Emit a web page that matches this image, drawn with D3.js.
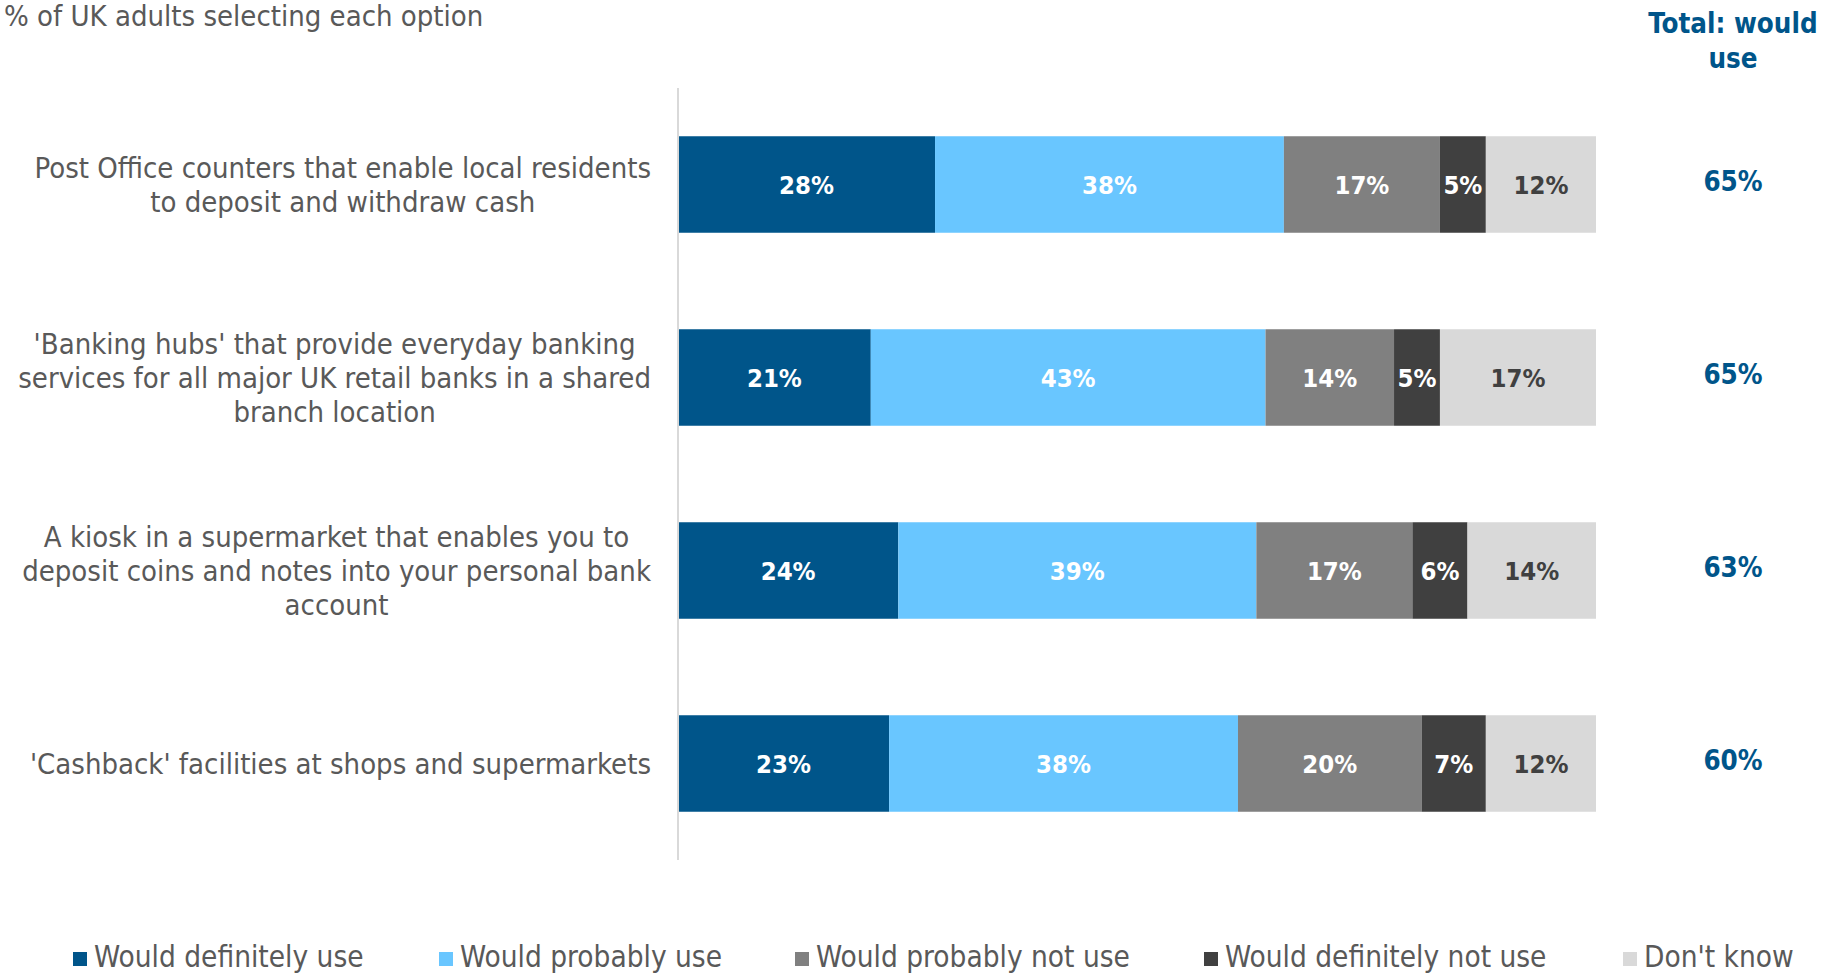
<!DOCTYPE html>
<html>
<head>
<meta charset="utf-8">
<script src="https://cdn.jsdelivr.net/npm/d3@7"></script>
<style>
  html, body { margin: 0; padding: 0; background: #fff; }
  svg { display: block; font-family: "DejaVu Sans Condensed", "DejaVu Sans", sans-serif; }
</style>
</head>
<body>
<svg id="chart" width="1839" height="974"></svg>
<script>
// Survey options (one label line per array element)
const categories = [
  ["Post Office counters that enable local residents", "to deposit and withdraw cash"],
  ["'Banking hubs' that provide everyday banking", "services for all major UK retail banks in a shared", "branch location"],
  ["A kiosk in a supermarket that enables you to", "deposit coins and notes into your personal bank", "account"],
  ["'Cashback' facilities at shops and supermarkets"]
];

const seriesNames = ["Would definitely use", "Would probably use", "Would probably not use", "Would definitely not use", "Don't know"];
const seriesColors = ["#00558a", "#69c6ff", "#808080", "#404040", "#d9d9d9"];
const labelColors = ["#ffffff", "#ffffff", "#ffffff", "#ffffff", "#404040"];

// Percentages for each series, in category order
const definitelyUse    = [28, 21, 24, 23];
const probablyUse      = [38, 43, 39, 38];
const probablyNotUse   = [17, 14, 17, 20];
const definitelyNotUse = [5, 5, 6, 7];
const dontKnow         = [12, 17, 14, 12];

const totalWouldUse = [65, 65, 63, 60];

const titleText = "% of UK adults selecting each option";
const totalHeader = ["Total: would", "use"];

const svg = d3.select("#chart");
const textGrey = "#595959";
const blue = "#00558a";

const margin = { left: 678, right: 243, top: 88, bottom: 114 };
const W = 1839, H = 974;

const seriesValues = [definitelyUse, probablyUse, probablyNotUse, definitelyNotUse, dontKnow];
const rows = categories.map((c, i) => {
  const r = { idx: i };
  seriesNames.forEach((s, j) => r[s] = seriesValues[j][i]);
  return r;
});
const stacked = d3.stack().keys(seriesNames)(rows);

const x = d3.scaleLinear().domain([0, 100]).range([margin.left, W - margin.right]);
const y = d3.scaleBand().domain(d3.range(categories.length))
  .range([margin.top, H - margin.bottom]).paddingInner(0.5).paddingOuter(0.25);

// Title
svg.append("text")
  .attr("x", 4).attr("y", 26)
  .attr("fill", textGrey).attr("font-size", 29)
  .text(titleText);

// Bars
const layer = svg.selectAll("g.layer").data(stacked).join("g")
  .attr("class", "layer")
  .attr("fill", (d, i) => seriesColors[i]);

layer.selectAll("rect").data(d => d).join("rect")
  .attr("x", d => x(d[0]))
  .attr("width", d => x(d[1]) - x(d[0]))
  .attr("y", (d, i) => y(i))
  .attr("height", y.bandwidth());

// Value labels inside segments
stacked.forEach((s, si) => {
  svg.append("g").selectAll("text").data(s).join("text")
    .attr("x", d => (x(d[0]) + x(d[1])) / 2)
    .attr("y", (d, i) => y(i) + y.bandwidth() / 2)
    .attr("dy", "0.36em")
    .attr("text-anchor", "middle")
    .attr("fill", labelColors[si])
    .attr("font-weight", "bold")
    .attr("font-size", 25.5)
    .text(d => (d[1] - d[0]) + "%");
});

// Vertical baseline
svg.append("line")
  .attr("x1", x(0)).attr("x2", x(0))
  .attr("y1", margin.top).attr("y2", H - margin.bottom)
  .attr("stroke", "#d9d9d9").attr("stroke-width", 2);

// Category labels: lines centred on each other, block right-aligned to the axis
const lineH = 34;
const catRight = 651;
categories.forEach((lines, i) => {
  const g = svg.append("g");
  const cy = y(i) + y.bandwidth() / 2;
  const texts = g.selectAll("text").data(lines).join("text")
    .attr("y", (d, k) => cy + (k - (lines.length - 1) / 2) * lineH)
    .attr("dy", "0.36em")
    .attr("text-anchor", "middle")
    .attr("fill", textGrey)
    .attr("font-size", 29)
    .text(d => d);
  let maxW = 0;
  texts.each(function () { maxW = Math.max(maxW, this.getComputedTextLength()); });
  texts.attr("x", catRight - maxW / 2);
});

// Total column
const totalX = 1733;
svg.append("g").selectAll("text").data(totalHeader).join("text")
  .attr("x", totalX)
  .attr("y", (d, k) => 23 + k * 35)
  .attr("dy", "0.36em")
  .attr("text-anchor", "middle")
  .attr("fill", blue).attr("font-weight", "bold").attr("font-size", 27.5)
  .text(d => d);

svg.append("g").selectAll("text").data(totalWouldUse).join("text")
  .attr("x", totalX)
  .attr("y", (d, i) => y(i) + y.bandwidth() / 2 - 3)
  .attr("dy", "0.36em")
  .attr("text-anchor", "middle")
  .attr("fill", blue).attr("font-weight", "bold").attr("font-size", 27.5)
  .text(d => d + "%");

// Legend
const legendX = [73, 439, 795, 1204, 1623];
const legendY = 956;
const lg = svg.append("g").selectAll("g").data(seriesNames).join("g")
  .attr("transform", (d, i) => `translate(${legendX[i]},${legendY})`);
lg.append("rect")
  .attr("x", 0).attr("y", -4).attr("width", 14).attr("height", 14)
  .attr("fill", (d, i) => seriesColors[i]);
lg.append("text")
  .attr("x", 21).attr("dy", "0.36em")
  .attr("fill", textGrey).attr("font-size", 29.5)
  .text(d => d);
</script>
</body>
</html>
